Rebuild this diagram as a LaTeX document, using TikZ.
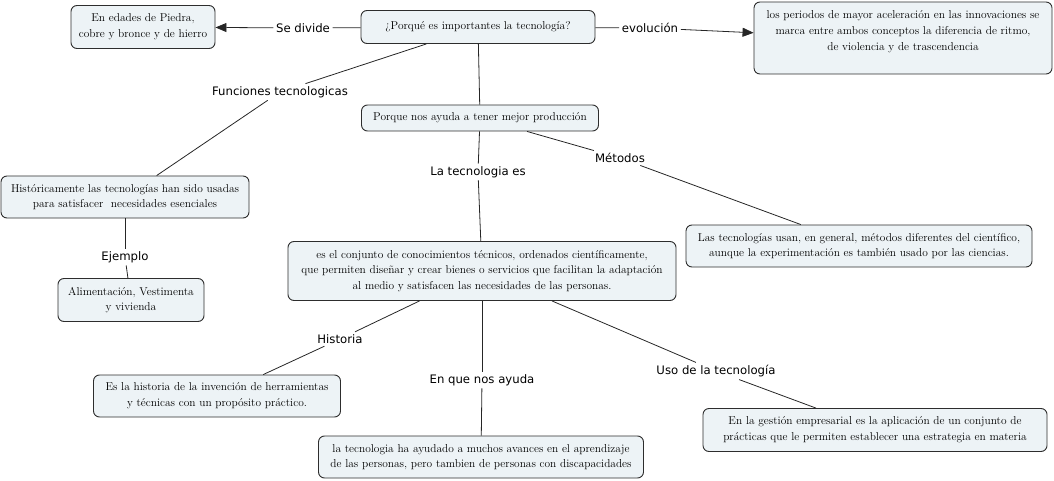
\documentclass[tikz,border=0pt]{standalone}
\usepackage{fontspec}
\usepackage{tikz}
\usetikzlibrary{arrows.meta}
\newfontfamily\linkfont{DejaVu Sans}
\definecolor{conceptfill}{RGB}{237,243,246}
\definecolor{conceptline}{RGB}{45,45,45}

\begin{document}
\begin{tikzpicture}[x=1pt,y=-1pt,
	concept/.style={draw=conceptline,fill=conceptfill,rounded corners=6pt,line width=0.9pt,align=center,inner sep=2pt,font=\fontsize{11.4}{15.7}\selectfont},
	linking/.style={inner sep=2.5pt,font=\linkfont\fontsize{11.7}{14}\selectfont},
	link/.style={line width=0.8pt,draw=black!85},
	linkto/.style={link,-{Triangle[length=11pt,width=9pt]}}]
\useasboundingbox (0,0) rectangle (1054,481);
%CONCEPTS
	%top row
	\node[concept,minimum width=234,minimum height=33] (why) at (478,27) {¿Porqué es importantes la tecnología?};
	\node[concept,minimum width=144,minimum height=43] (edades) at (143,27) {En edades de Piedra,\\ cobre y bronce y de hierro};
	\node[concept,inner xsep=0pt,inner ysep=6pt] (evol) at (903,38) {\parbox[c][60pt][t]{298pt}{\centering\vspace*{3pt}los periodos de mayor aceleración en las innovaciones se\\ marca entre ambos conceptos la diferencia de ritmo,\\ de violencia y de trascendencia}};
	%middle
	\node[concept,minimum width=237,minimum height=26] (prod) at (480,118) {Porque nos ayuda a tener mejor producción};
	\node[concept,minimum width=248,minimum height=42] (hist) at (125,197) {Históricamente las tecnologías han sido usadas\\ para satisfacer\ \ necesidades esenciales};
	\node[concept,minimum width=146,minimum height=43] (alim) at (131,300) {Alimentación, Vestimenta\\ y vivienda};
	\node[concept,minimum width=388,minimum height=59] (conj) at (482,271) {es el conjunto de conocimientos técnicos, ordenados científicamente,\\ que permiten diseñar y crear bienes o servicios que facilitan la adaptación\\ al medio y satisfacen las necesidades de las personas.};
	\node[concept,minimum width=346,minimum height=42] (metod) at (859,246) {Las tecnologías usan, en general, métodos diferentes del científico,\\ aunque la experimentación es también usado por las ciencias.};
	%bottom row
	\node[concept,minimum width=247,minimum height=42] (histo) at (217,396) {Es la historia de la invención de herramientas\\ y técnicas con un propósito práctico.};
	\node[concept,minimum width=325,minimum height=42] (ayuda) at (481,457) {la tecnologia ha ayudado a muchos avances en el aprendizaje\\ de las personas, pero tambien de personas con discapacidades};
	\node[concept,minimum width=344,minimum height=43] (uso) at (875,430) {En la gestión empresarial es la aplicación de un conjunto de\\ prácticas que le permiten establecer una estrategia en materia};
%LINKING PHRASES
	\node[linking] (ldiv) at (303,28) {Se divide};
	\node[linking] (levo) at (650,28) {evolución};
	\node[linking] (lfun) at (280,92) {Funciones tecnologicas};
	\node[linking] (ltec) at (478,172) {La tecnologia es};
	\node[linking] (lmet) at (620,158) {Métodos};
	\node[linking] (lej) at (125,257) {Ejemplo};
	\node[linking] (lhis) at (340,339) {Historia};
	\node[linking] (layu) at (482,380) {En que nos ayuda};
	\node[linking] (luso) at (716,371) {Uso de la tecnología};
%CONNECTORS
	\draw[link] (why) -- (ldiv);
	\draw[linkto] (ldiv) -- (edades);
	\draw[link] (why) -- (levo);
	\draw[linkto] (levo) -- (evol.178);
	\draw[link] (why) -- (lfun);
	\draw[link] (lfun) -- (hist);
	\draw[link] (why) -- (prod);
	\draw[link] (prod) -- (ltec);
	\draw[link] (ltec) -- (conj);
	\draw[link] (prod) -- (lmet);
	\draw[link] (lmet) -- (metod);
	\draw[link] (hist) -- (lej);
	\draw[link] (lej) -- (alim);
	\draw[link] (conj) -- (lhis);
	\draw[link] (lhis) -- (histo);
	\draw[link] (conj) -- (layu);
	\draw[link] (layu) -- (ayuda);
	\draw[link] (conj) -- (luso);
	\draw[link] (luso) -- (uso);
\end{tikzpicture}
\end{document}
